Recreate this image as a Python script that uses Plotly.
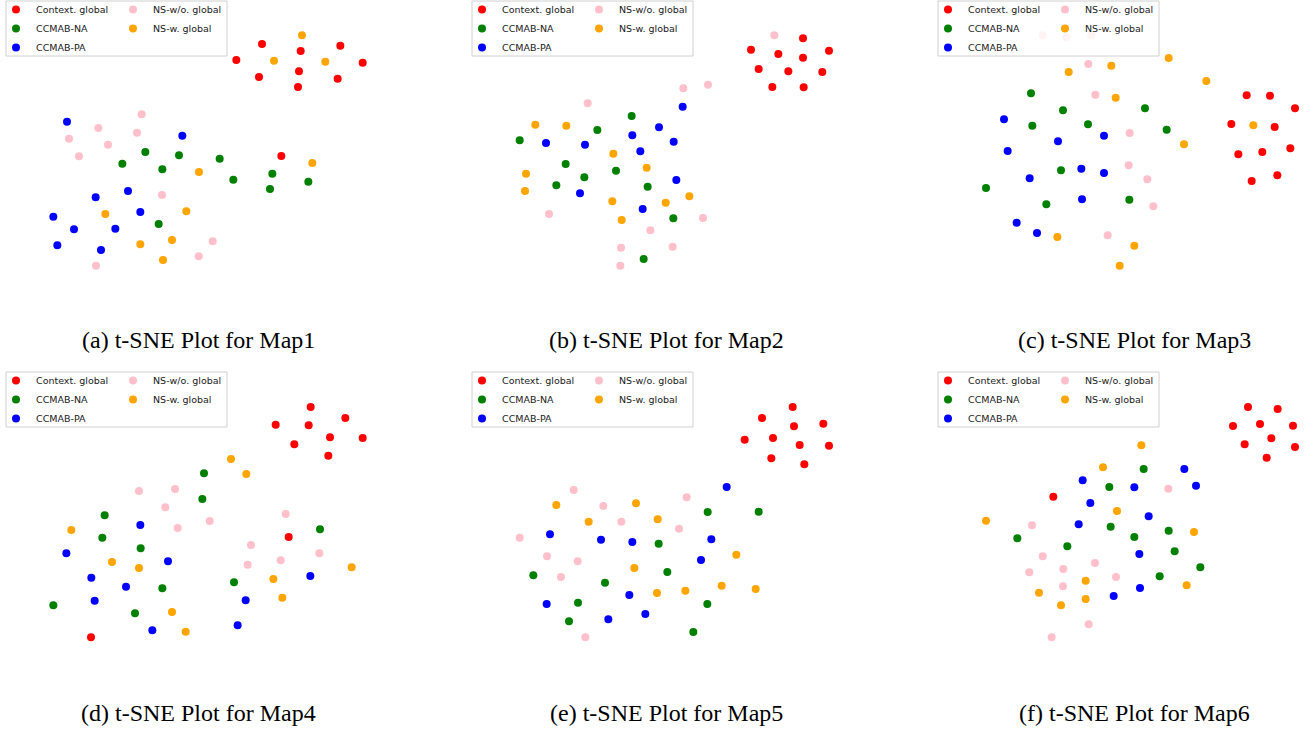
import plotly.graph_objects as go

W, H = 1314, 729

series_names = ["Context. global", "CCMAB-NA", "CCMAB-PA", "NS-w/o. global", "NS-w. global"]
series_colors = ["red", "green", "blue", "pink", "orange"]
captions = ["(a) t-SNE Plot for Map1", "(b) t-SNE Plot for Map2", "(c) t-SNE Plot for Map3",
            "(d) t-SNE Plot for Map4", "(e) t-SNE Plot for Map5", "(f) t-SNE Plot for Map6"]

# ---- Map1 (embedding coordinates, y measured downward) ----
m1_ctx_x = [786, 902, 1021, 709, 897, 1088, 777, 1013, 894, 844]
m1_ctx_y = [132, 153, 137, 180, 214, 188, 231, 236, 261, 468]
m1_na_x = [436, 537, 659, 367, 487, 700, 817, 925, 810, 476]
m1_na_y = [456, 466, 476, 491, 508, 539, 521, 545, 567, 672]
m1_pa_x = [201, 547, 384, 287, 421, 160, 222, 346, 172, 303]
m1_pa_y = [365, 407, 573, 592, 636, 650, 688, 686, 736, 750]
m1_nswo_x = [425, 295, 411, 207, 324, 237, 486, 638, 596, 288]
m1_nswo_y = [343, 384, 398, 416, 434, 469, 585, 724, 769, 797]
m1_nsw_x = [906, 822, 976, 937, 597, 316, 559, 516, 421, 489]
m1_nsw_y = [106, 182, 185, 489, 516, 642, 634, 720, 733, 780]

# ---- Map2 ----
m2_ctx_x = [999, 843, 925, 1077, 999, 866, 955, 1057, 907, 1001]
m2_ctx_y = [115, 149, 162, 152, 173, 207, 214, 216, 261, 262]
m2_na_x = [485, 382, 149, 287, 438, 343, 259, 533, 610, 521]
m2_na_y = [348, 390, 421, 492, 512, 532, 556, 560, 655, 777]
m2_pa_x = [638, 567, 487, 228, 345, 611, 511, 619, 330, 518]
m2_pa_y = [320, 382, 406, 429, 434, 425, 454, 540, 580, 627]
m2_nswo_x = [913, 640, 714, 353, 237, 699, 541, 453, 608, 451]
m2_nswo_y = [106, 265, 254, 310, 642, 654, 691, 743, 740, 797]
m2_nsw_x = [196, 289, 430, 530, 168, 165, 427, 587, 658, 455]
m2_nsw_y = [374, 377, 461, 503, 521, 573, 604, 608, 589, 660]

# ---- Map3 ----
m3_ctx_x = [950, 1020, 1095, 904, 1034, 1081, 925, 997, 1042, 965]
m3_ctx_y = [286, 287, 325, 372, 381, 445, 463, 456, 526, 543]
m3_na_x = [303, 399, 307, 474, 645, 710, 393, 168, 349, 598]
m3_na_y = [280, 331, 377, 373, 325, 389, 511, 564, 613, 599]
m3_pa_x = [222, 233, 384, 522, 454, 522, 299, 456, 260, 321]
m3_pa_y = [358, 453, 424, 407, 506, 519, 535, 598, 668, 699]
m3_nswo_x = [338, 409, 484, 475, 496, 599, 596, 652, 670, 533]
m3_nswo_y = [106, 112, 106, 192, 284, 399, 496, 538, 619, 706]
m3_nsw_x = [716, 416, 544, 829, 557, 970, 762, 382, 613, 569]
m3_nsw_y = [174, 216, 197, 243, 293, 376, 433, 711, 737, 797]

# ---- Map4 ----
m4_ctx_x = [932, 1036, 827, 926, 990, 1088, 883, 985, 866, 273]
m4_ctx_y = [126, 159, 179, 181, 217, 219, 238, 272, 516, 817]
m4_na_x = [612, 607, 314, 307, 422, 960, 702, 487, 160, 405]
m4_na_y = [325, 402, 451, 518, 550, 493, 652, 670, 721, 745]
m4_pa_x = [421, 199, 504, 274, 378, 931, 284, 737, 713, 457]
m4_pa_y = [480, 565, 589, 638, 665, 633, 707, 706, 781, 796]
m4_nswo_x = [417, 525, 496, 629, 533, 857, 753, 958, 842, 743]
m4_nswo_y = [378, 372, 427, 468, 489, 447, 540, 565, 586, 599]
m4_nsw_x = [693, 739, 214, 336, 417, 1055, 820, 847, 516, 557]
m4_nsw_y = [282, 327, 495, 591, 609, 607, 642, 698, 741, 800]

# ---- Map5 ----
m5_ctx_x = [968, 876, 972, 1060, 824, 909, 989, 1077, 904, 1003]
m5_ctx_y = [126, 159, 184, 176, 224, 219, 240, 242, 280, 298]
m5_na_x = [713, 866, 566, 592, 190, 405, 324, 712, 297, 670]
m5_na_y = [441, 440, 536, 621, 631, 653, 713, 717, 769, 801]
m5_pa_x = [770, 240, 393, 487, 724, 693, 478, 230, 526, 415]
m5_pa_y = [366, 508, 524, 531, 523, 585, 690, 717, 747, 763]
m5_nswo_x = [311, 650, 400, 454, 627, 149, 231, 323, 273, 346]
m5_nswo_y = [375, 397, 423, 470, 491, 518, 574, 589, 636, 817]
m5_nsw_x = [259, 498, 356, 563, 799, 493, 755, 857, 646, 561]
m5_nsw_y = [420, 415, 470, 463, 569, 609, 662, 672, 677, 684]

# ---- Map6 ----
m6_ctx_x = [954, 1043, 909, 990, 1089, 1024, 944, 1095, 1010, 370]
m6_ctx_y = [126, 132, 183, 177, 182, 220, 238, 246, 278, 395]
m6_na_x = [641, 538, 542, 262, 412, 613, 716, 734, 811, 689]
m6_na_y = [312, 366, 485, 520, 544, 516, 497, 559, 607, 634]
m6_pa_x = [763, 798, 458, 613, 481, 656, 446, 628, 630, 551]
m6_pa_y = [312, 362, 346, 367, 414, 454, 478, 567, 669, 693]
m6_nswo_x = [715, 306, 338, 298, 400, 495, 558, 399, 476, 365]
m6_nswo_y = [371, 481, 574, 622, 612, 594, 636, 664, 778, 817]
m6_nsw_x = [634, 519, 561, 168, 792, 467, 770, 327, 393, 467]
m6_nsw_y = [241, 307, 438, 467, 501, 647, 661, 683, 721, 702]

maps = [
    [(m1_ctx_x, m1_ctx_y), (m1_na_x, m1_na_y), (m1_pa_x, m1_pa_y), (m1_nswo_x, m1_nswo_y), (m1_nsw_x, m1_nsw_y)],
    [(m2_ctx_x, m2_ctx_y), (m2_na_x, m2_na_y), (m2_pa_x, m2_pa_y), (m2_nswo_x, m2_nswo_y), (m2_nsw_x, m2_nsw_y)],
    [(m3_ctx_x, m3_ctx_y), (m3_na_x, m3_na_y), (m3_pa_x, m3_pa_y), (m3_nswo_x, m3_nswo_y), (m3_nsw_x, m3_nsw_y)],
    [(m4_ctx_x, m4_ctx_y), (m4_na_x, m4_na_y), (m4_pa_x, m4_pa_y), (m4_nswo_x, m4_nswo_y), (m4_nsw_x, m4_nsw_y)],
    [(m5_ctx_x, m5_ctx_y), (m5_na_x, m5_na_y), (m5_pa_x, m5_pa_y), (m5_nswo_x, m5_nswo_y), (m5_nsw_x, m5_nsw_y)],
    [(m6_ctx_x, m6_ctx_y), (m6_na_x, m6_na_y), (m6_pa_x, m6_pa_y), (m6_nswo_x, m6_nswo_y), (m6_nsw_x, m6_nsw_y)],
]

# ---- layout (pixel geometry of each panel: left, top, width, height) ----
panels = [(0, 0, 380, 280), (470, 0, 380, 280), (930, 0, 384, 280),
          (0, 365, 380, 285), (470, 365, 380, 285), (930, 365, 384, 285)]
scale = 3.0  # embedding units per pixel
legend_boxes = [(6, 1), (472, 1), (938, 1), (6, 372), (472, 372), (938, 372)]
box_w, box_h = 221, 55
caption_cx = [198, 666, 1134, 198, 666, 1134]
caption_cy = [340, 340, 340, 713, 713, 713]

fig = go.Figure()
layout = dict(width=W, height=H, autosize=False,
              margin=dict(l=0, r=0, t=0, b=0, autoexpand=False),
              paper_bgcolor="white", plot_bgcolor="white",
              shapes=[], annotations=[])

leg_font = dict(family="DejaVu Sans", size=9.5, color="#1a1a1a")

for i, (px, py, pw, ph) in enumerate(panels):
    ax = "" if i == 0 else str(i + 1)
    l1 = "legend" if i == 0 else "legend%d" % (2 * i + 1)
    l2 = "legend%d" % (2 * i + 2)
    for s in range(5):
        xs, ys = maps[i][s]
        fig.add_trace(go.Scatter(
            x=xs, y=ys, mode="markers", name=series_names[s],
            marker=dict(color=series_colors[s], size=8, line=dict(width=0)),
            xaxis="x" + ax, yaxis="y" + ax,
            legend=l1 if s < 3 else l2, showlegend=True, hoverinfo="skip"))
    layout["xaxis" + ax] = dict(domain=[px / W, (px + pw) / W], range=[0, pw * scale],
                                visible=False, anchor="y" + ax, fixedrange=True)
    layout["yaxis" + ax] = dict(domain=[1 - (py + ph) / H, 1 - py / H], range=[ph * scale, 0],
                                visible=False, anchor="x" + ax, fixedrange=True)
    bx, by = legend_boxes[i]
    layout["shapes"].append(dict(type="rect", xref="paper", yref="paper",
                                 x0=bx / W, x1=(bx + box_w) / W,
                                 y0=1 - (by + box_h) / H, y1=1 - by / H,
                                 fillcolor="rgba(255,255,255,0.8)",
                                 line=dict(color="#d0d0d0", width=1), layer="above"))
    layout[l1] = dict(x=(bx - 10) / W, y=1 - (by - 6) / H, xanchor="left", yanchor="top",
                      bgcolor="rgba(0,0,0,0)", borderwidth=0, font=leg_font,
                      orientation="v", itemclick=False, itemdoubleclick=False)
    layout[l2] = dict(x=(bx + 107) / W, y=1 - (by - 6) / H, xanchor="left", yanchor="top",
                      bgcolor="rgba(0,0,0,0)", borderwidth=0, font=leg_font,
                      orientation="v", itemclick=False, itemdoubleclick=False)
    layout["annotations"].append(dict(text=captions[i], xref="paper", yref="paper",
                                      x=caption_cx[i] / W, y=1 - caption_cy[i] / H,
                                      xanchor="center", yanchor="middle", showarrow=False,
                                      font=dict(family="Liberation Serif", size=24, color="black")))

fig.update_layout(**layout)
fig.write_html("out.html", config={"displayModeBar": False},
               post_script="document.body.style.margin='0';document.body.style.overflow='hidden';")
